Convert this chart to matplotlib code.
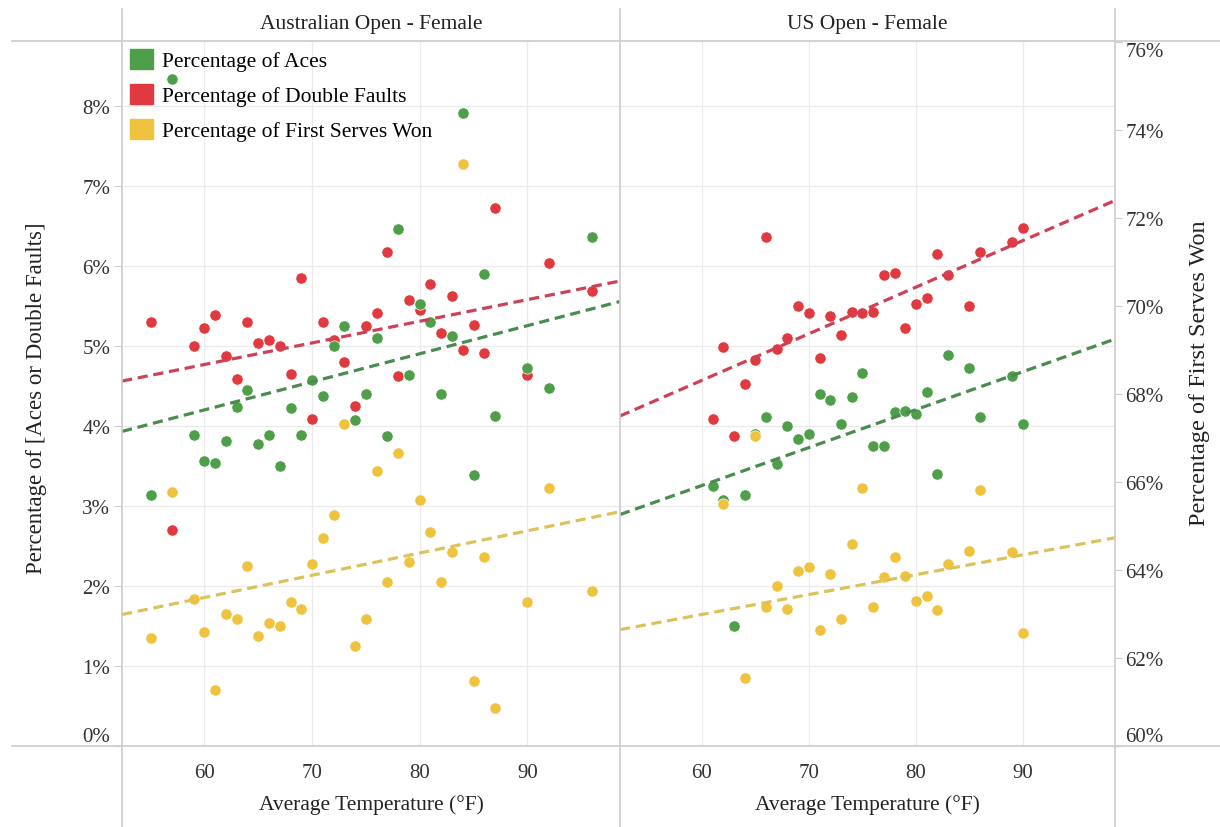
import numpy as np
import matplotlib
matplotlib.use("Agg")
import matplotlib.pyplot as plt
from matplotlib.patches import Patch
from matplotlib.lines import Line2D

plt.rcParams['font.family'] = ['Liberation Serif', 'DejaVu Serif']

# Australian Open - Female (temperature in °F, values in %)
ao_temp = [55, 57, 59, 60, 61, 62, 63, 64, 65, 66, 67, 68, 69, 70, 71, 72, 73,
           74, 75, 76, 77, 78, 79, 80, 81, 82, 83, 84, 85, 86, 87, 90, 92, 96]
ao_aces = [3.14, 8.34, 3.89, 3.56, 3.54, 3.81, 4.24, 4.45, 3.77, 3.89, 3.50, 4.23,
           3.89, 4.57, 4.38, 5.00, 5.25, 4.07, 4.40, 5.10, 3.87, 6.46, 4.64, 5.52,
           5.30, 4.40, 5.13, 7.91, 3.39, 5.90, 4.13, 4.72, 4.48, 6.36]
ao_df = [5.30, 2.70, 5.00, 5.23, 5.39, 4.87, 4.59, 5.30, 5.04, 5.07, 5.00, 4.65,
         5.85, 4.09, 5.30, 5.07, 4.80, 4.25, 5.25, 5.41, 6.17, 4.62, 5.58, 5.45,
         5.77, 5.16, 5.62, 4.95, 5.26, 4.91, 6.73, 4.64, 6.04, 5.69]
ao_fsw = [62.45, 65.78, 63.34, 62.58, 61.27, 63.00, 62.89, 64.10, 62.51, 62.80,
          62.72, 63.27, 63.11, 64.14, 64.72, 65.25, 67.32, 62.28, 62.89, 66.24,
          63.72, 66.66, 64.19, 65.59, 64.87, 63.72, 64.42, 73.23, 61.47, 64.29,
          60.86, 63.27, 65.86, 63.53]

# US Open - Female
uo_temp = [61, 62, 63, 64, 65, 66, 67, 68, 69, 70, 71, 72, 73, 74, 75, 76, 77,
           78, 79, 80, 81, 82, 83, 85, 86, 89, 90]
uo_aces = [3.25, 3.07, 1.50, 3.14, 3.90, 4.11, 3.52, 4.00, 3.84, 3.90, 4.40, 4.32,
           4.03, 4.36, 4.66, 3.75, 3.75, 4.17, 4.19, 4.15, 4.42, 3.40, 4.89, 4.73,
           4.11, 4.63, 4.03]
uo_df = [4.09, 4.99, 3.88, 4.52, 4.82, 6.36, 4.96, 5.10, 5.50, 5.41, 4.85, 5.37,
         5.14, 5.43, 5.41, 5.43, 5.89, 5.91, 5.22, 5.52, 5.60, 6.15, 5.89, 5.50,
         6.17, 6.30, 6.48]
uo_fsw = [np.nan, np.nan, np.nan, 61.55, np.nan, 63.15, 63.64, 63.11, 63.98, 64.06,
          62.64, 63.91, 62.89, 64.59, 65.86, 63.15, 63.83, 64.29, 63.87, 63.30,
          63.42, 63.08, 64.14, 64.44, 65.82, 64.42, 62.57]
# yellow marks sitting on top of green ones (not part of the trend in the source)
uo_fsw_extra_temp = [62, 65]
uo_fsw_extra = [65.50, 67.05]

titles = ["Australian Open - Female", "US Open - Female"]
x_ticks = [60, 70, 80, 90]
left_ticks = [0, 1, 2, 3, 4, 5, 6, 7, 8]
right_ticks = [60, 62, 64, 66, 68, 70, 72, 74, 76]

GREEN = "#4f9e49"
RED = "#e0393f"
YELLOW = "#efc33e"
GREEN_LN = "#4b8b4e"
RED_LN = "#cc4256"
YELLOW_LN = "#dcc25a"
BORDER = "#cccccc"
TXT = "#333333"
FS = 15

W, H = 1220, 828
fig = plt.figure(figsize=(W / 100, H / 100), dpi=100)


def fx(px):
    return px / W


def fy(py):
    return 1 - py / H


top, bot = 42, 747
panels = [(122, 620), (620, 1115)]
xlim = (52.35, 98.6)
left_lim = (0, (bot - top) / 80)
right_lim = (60, 60 + (bot - top) / 44)


def trend(ax, x, y, color):
    x = np.array(x, dtype=float)
    y = np.array(y, dtype=float)
    ok = ~np.isnan(y)
    m, b = np.polyfit(x[ok], y[ok], 1)
    xs = np.array(xlim)
    ax.plot(xs, m * xs + b, color=color, lw=2.3, ls=(0, (3.2, 1.8)), zorder=5)


data = [(ao_temp, ao_aces, ao_df, ao_fsw), (uo_temp, uo_aces, uo_df, uo_fsw)]
dot = dict(s=66, edgecolors="white", linewidths=0.5)

for i, ((x0, x1), (temp, aces, df, fsw)) in enumerate(zip(panels, data)):
    ax = fig.add_axes([fx(x0), fy(bot), fx(x1 - x0), (bot - top) / H])
    ax2 = ax.twinx()
    for a in (ax, ax2):
        for s in a.spines.values():
            s.set_visible(False)

    ax.scatter(temp, df, color=RED, zorder=3, **dot)
    ax.scatter(temp, aces, color=GREEN, zorder=4, **dot)
    trend(ax, temp, df, RED_LN)
    trend(ax, temp, aces, GREEN_LN)
    ax2.scatter(temp, fsw, color=YELLOW, zorder=3, **dot)
    if i == 1:
        ax2.scatter(uo_fsw_extra_temp, uo_fsw_extra, color=YELLOW, zorder=3, **dot)
    trend(ax2, temp, fsw, YELLOW_LN)

    ax.set_xlim(xlim)
    ax.set_ylim(left_lim)
    ax2.set_ylim(right_lim)
    ax.set_xticks(x_ticks)
    ax.set_yticks(left_ticks)
    ax.grid(True, color="#ebebeb", lw=0.9)
    ax.set_axisbelow(True)
    ax.tick_params(axis="x", length=0, pad=12, labelsize=FS, labelcolor=TXT)

    if i == 0:
        ax.set_yticklabels([f"{t}%" for t in left_ticks])
        ax.tick_params(axis="y", length=6, color=BORDER, pad=2.5, labelsize=FS, labelcolor=TXT)
        ax.get_yticklabels()[0].set_va("bottom")
        ax2.tick_params(axis="y", right=False, labelright=False)
        ax.legend(handles=[Patch(color=GREEN, label="Percentage of Aces"),
                           Patch(color=RED, label="Percentage of Double Faults"),
                           Patch(color=YELLOW, label="Percentage of First Serves Won")],
                  loc="upper left", bbox_to_anchor=(8 / 498, 1 - 8 / 705),
                  frameon=False, fontsize=FS + 0.5, handlelength=1.05, handleheight=1.05,
                  handletextpad=0.45, labelspacing=0.58, borderpad=0, borderaxespad=0)
    else:
        ax.tick_params(axis="y", left=False, labelleft=False)
        ax2.set_yticks(right_ticks)
        ax2.set_yticklabels([f"{t}%" for t in right_ticks])
        ax2.tick_params(axis="y", length=5, color=BORDER, pad=2.5, labelsize=FS, labelcolor=TXT)
        ax2.get_yticklabels()[0].set_va("bottom")
        ax2.get_yticklabels()[-1].set_va("top")

    fig.text(fx((x0 + x1) / 2), fy(25), titles[i], ha="center", va="center",
             fontsize=FS + 0.5, color="#222222")
    fig.text(fx((x0 + x1) / 2), fy(805), "Average Temperature (°F)", ha="center",
             va="center", fontsize=FS + 0.5, color="#222222")

fig.text(fx(37), fy(398), "Percentage of [Aces or Double Faults]", rotation=90,
         ha="center", va="center", fontsize=16.5, color="#222222")
fig.text(fx(1200), fy(373), "Percentage of First Serves Won", rotation=90,
         ha="center", va="center", fontsize=17.5, color="#222222")

# table borders
for yy in (top, bot):
    fig.add_artist(Line2D([fx(12), 1], [fy(yy), fy(yy)], color=BORDER, lw=1.2))
for xx in (122, 620, 1115):
    fig.add_artist(Line2D([fx(xx), fx(xx)], [fy(10), 0], color=BORDER, lw=1.2))

fig.savefig("out.png", dpi=100)
